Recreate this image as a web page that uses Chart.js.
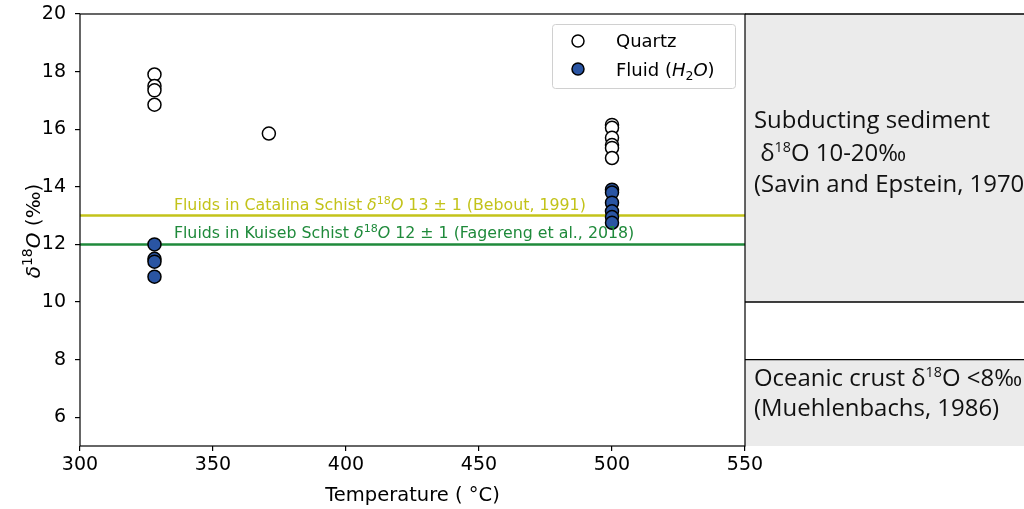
<!DOCTYPE html>
<html><head><meta charset="utf-8">
<script src="https://cdn.jsdelivr.net/npm/chart.js@4.4.0/dist/chart.umd.min.js"></script>
<style>html,body{margin:0;padding:0;background:#fff;}canvas{display:block;}</style>
</head><body>
<canvas id="c" width="1024" height="509"></canvas>
<script>
const quartzT = [328,328,328,328,371,500,500,500,500,500,500];
const quartzD = [17.9,17.5,17.35,16.85,15.85,16.15,16.05,15.7,15.45,15.35,15.0];
const fluidT  = [328,328,328,328,500,500,500,500,500,500];
const fluidD  = [12.0,11.5,11.4,10.88,13.9,13.8,13.45,13.15,12.95,12.75];
const xTicks = [300,350,400,450,500,550];
const yTicks = [6,8,10,12,14,16,18,20];
const refCatalina = 13;
const refKuiseb = 12;
const sedimentRange = [10,20];
const crustRange = [5,8];

const FLUID_COL = '#2a55a3';
const YEL = '#c3c31a';
const GRN = '#1f8a3b';
const DJ = '"DejaVu Sans"';

function pts(xs, ys){ return xs.map((x,i)=>({x:x,y:ys[i]})); }

function richText(ctx, x, y, segs, size, color, align){
  const fontFor = s => (s.it?'italic ':'') + Math.round((s.sup?size*0.7:size)*10)/10 + 'px ' + (s.fam||DJ);
  let w = 0;
  segs.forEach(s=>{ ctx.font = fontFor(s); w += ctx.measureText(s.t).width; });
  let cx = align==='center' ? x - w/2 : x;
  ctx.fillStyle = color; ctx.textBaseline = 'alphabetic'; ctx.textAlign = 'left';
  segs.forEach(s=>{ ctx.font = fontFor(s); ctx.fillText(s.t, cx, s.sup ? y - size*0.38 : y); cx += ctx.measureText(s.t).width; });
}

const deco = {
  id:'deco',
  beforeDatasetsDraw(chart){
    const ctx = chart.ctx, a = chart.chartArea, ys = chart.scales.y;
    ctx.save();
    const L = a.right, R = chart.width;
    const sTop = ys.getPixelForValue(sedimentRange[1]), sBot = ys.getPixelForValue(sedimentRange[0]);
    const cTop = ys.getPixelForValue(crustRange[1]), cBot = ys.getPixelForValue(crustRange[0]);
    ctx.fillStyle = '#ebebeb';
    ctx.fillRect(L, sTop, R-L, sBot-sTop);
    ctx.fillRect(L, cTop, R-L, cBot-cTop);
    ctx.strokeStyle = '#000'; ctx.lineWidth = 1.3;
    [sTop, sBot, cTop].forEach(py=>{ ctx.beginPath(); ctx.moveTo(L, py); ctx.lineTo(R, py); ctx.stroke(); });
    ctx.restore();
  },
  afterDraw(chart){
    const ctx = chart.ctx, a = chart.chartArea, xs = chart.scales.x, ys = chart.scales.y;
    ctx.save();
    ctx.strokeStyle = '#000'; ctx.lineWidth = 1.2;
    ctx.strokeRect(a.left, a.top, a.right-a.left, a.bottom-a.top);
    const ax = xs.getPixelForValue(335.3);
    richText(ctx, ax, ys.getPixelForValue(refCatalina)-6, [
      {t:'Fluids in Catalina Schist '},{t:'δ',it:1},{t:'18',sup:1},{t:'O',it:1},{t:' 13 ± 1 (Bebout, 1991)'}], 15.8, YEL);
    richText(ctx, ax, ys.getPixelForValue(refKuiseb)-6, [
      {t:'Fluids in Kuiseb Schist '},{t:'δ',it:1},{t:'18',sup:1},{t:'O',it:1},{t:' 12 ± 1 (Fagereng et al., 2018)'}], 15.8, GRN);
    ctx.save();
    ctx.translate(40, 231);
    ctx.rotate(-Math.PI/2);
    richText(ctx, 0, 0, [{t:'δ',it:1},{t:'18',sup:1},{t:'O',it:1},{t:' (‰)'}], 20, '#000', 'center');
    ctx.restore();
    const lx = 552, ly = 24, lw = 183, lh = 64;
    ctx.fillStyle = 'rgba(255,255,255,0.85)'; ctx.strokeStyle = '#d0d0d0'; ctx.lineWidth = 1;
    ctx.beginPath(); ctx.roundRect(lx+0.5, ly+0.5, lw, lh, 3); ctx.fill(); ctx.stroke();
    ctx.lineWidth = 1.5; ctx.strokeStyle = '#000';
    ctx.beginPath(); ctx.arc(578, 41, 6, 0, Math.PI*2); ctx.fillStyle='#fff'; ctx.fill(); ctx.stroke();
    ctx.beginPath(); ctx.arc(578, 69, 6, 0, Math.PI*2); ctx.fillStyle=FLUID_COL; ctx.fill(); ctx.stroke();
    richText(ctx, 616, 47, [{t:'Quartz'}], 18, '#000');
    ctx.font = '18px '+DJ;
    const fw = ctx.measureText('Fluid (').width;
    richText(ctx, 616, 76, [{t:'Fluid ('},{t:'H',it:1}], 18, '#000');
    ctx.font = 'italic 18px '+DJ;
    const hw = ctx.measureText('H').width;
    ctx.font = '12.5px '+DJ; ctx.fillStyle='#000';
    ctx.fillText('2', 616+fw+hw, 80);
    const tw = ctx.measureText('2').width;
    richText(ctx, 616+fw+hw+tw, 76, [{t:'O',it:1},{t:')'}], 18, '#000');
    const fam = '"Open Sans"';
    ctx.font = '21px '+fam;
    const target = 236, meas = ctx.measureText('Subducting sediment').width;
    const sz = 21*target/meas;
    const R = a.right + 9;
    const sup = (x,y,parts)=>{
      let cx = x;
      parts.forEach(p=>{ ctx.font = (p[1]?sz*0.6:sz)+'px '+fam; ctx.fillStyle='#111';
        ctx.fillText(p[0], cx, p[1]? y - sz*0.38 : y); cx += ctx.measureText(p[0]).width; });
    };
    ctx.textBaseline='alphabetic'; ctx.textAlign='left';
    sup(R, 128, [['Subducting sediment',0]]);
    sup(R, 161, [[' δ',0],['18',1],['O 10-20‰',0]]);
    sup(R, 192, [['(Savin and Epstein, 1970)',0]]);
    sup(R, 386, [['Oceanic crust δ',0],['18',1],['O <8‰',0]]);
    sup(R, 416, [['(Muehlenbachs, 1986)',0]]);
    ctx.restore();
  }
};

new Chart(document.getElementById('c'), {
  type:'scatter',
  data:{ datasets:[
    {label:'catalina', type:'line', data:[{x:xTicks[0],y:refCatalina},{x:xTicks[xTicks.length-1],y:refCatalina}], borderColor:YEL, borderWidth:2.5, pointRadius:0, order:3},
    {label:'kuiseb', type:'line', data:[{x:xTicks[0],y:refKuiseb},{x:xTicks[xTicks.length-1],y:refKuiseb}], borderColor:GRN, borderWidth:2.5, pointRadius:0, order:3},
    {label:'Quartz', data:pts(quartzT, quartzD), backgroundColor:'#fff', borderColor:'#000', borderWidth:1.5, pointRadius:6.5, order:2},
    {label:'Fluid', data:pts(fluidT, fluidD), backgroundColor:FLUID_COL, borderColor:'#000', borderWidth:1.5, pointRadius:6.5, order:1}
  ]},
  options:{
    responsive:false, animation:false, devicePixelRatio:1,
    layout:{padding:{top:14, right:279, left:0, bottom:0}},
    plugins:{legend:{display:false}, tooltip:{enabled:false}},
    scales:{
      x:{type:'linear', min:300, max:550,
        afterBuildTicks:s=>{ s.ticks = xTicks.map(v=>({value:v})); },
        afterFit:s=>{ s.height = 63; s.paddingLeft = 0; s.paddingRight = 0; },
        grid:{drawOnChartArea:false, tickLength:5, color:'#000', lineWidth:1.2},
        border:{display:false},
        ticks:{color:'#000', font:{family:'DejaVu Sans', size:19}, padding:3, maxRotation:0, autoSkip:false},
        title:{display:true, text:'Temperature ( °C)', color:'#000', font:{family:'DejaVu Sans', size:19.5}, padding:{top:4, bottom:1}}
      },
      y:{type:'linear', min:5, max:20,
        afterBuildTicks:s=>{ s.ticks = yTicks.map(v=>({value:v})); },
        afterFit:s=>{ s.width = 80; s.paddingTop = 0; s.paddingBottom = 0; },
        grid:{drawOnChartArea:false, tickLength:5, color:'#000', lineWidth:1.2},
        border:{display:false},
        ticks:{color:'#000', font:{family:'DejaVu Sans', size:19}, padding:9, autoSkip:false}
      }
    }
  },
  plugins:[deco]
});
</script>
</body></html>
